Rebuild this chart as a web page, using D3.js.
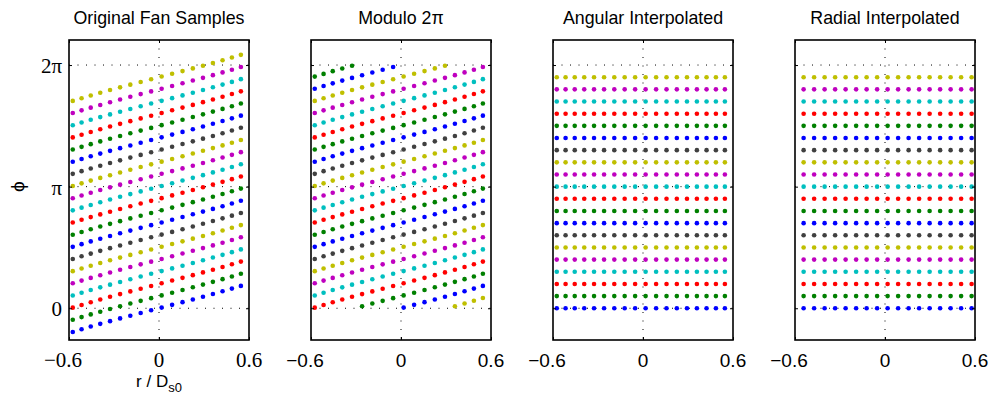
<!DOCTYPE html>
<html>
<head>
<meta charset="utf-8">
<script src="https://cdn.jsdelivr.net/npm/d3@7"></script>
<style>
  html, body { margin: 0; padding: 0; background: #fff; }
  svg { display: block; }
  .title { font-family: "Liberation Sans", Arial, sans-serif; font-size: 17.8px; fill: #000; }
  .serif { font-family: "Liberation Serif", "Times New Roman", serif; }
  .sans  { font-family: "Liberation Sans", Arial, sans-serif; }
</style>
</head>
<body>
<svg id="chart" width="990" height="398"></svg>
<script>
// Projection (view) angles, in units of pi: 20 views over a full turn
const viewAnglesOverPi = [0.0, 0.1, 0.2, 0.3, 0.4, 0.5, 0.6, 0.7, 0.8, 0.9,
                          1.0, 1.1, 1.2, 1.3, 1.4, 1.5, 1.6, 1.7, 1.8, 1.9];

// Fan-beam detector angles gamma (rad), quarter-detector offset
const fanGamma = [-0.6125, -0.5425, -0.4725, -0.4025, -0.3325, -0.2625,
                  -0.1925, -0.1225, -0.0525, 0.0175, 0.0875, 0.1575,
                  0.2275, 0.2975, 0.3675, 0.4375, 0.5075, 0.5775];

// Radial position of each fan ray, r / Ds0 = sin(gamma)
const fanR = [-0.5749, -0.5162, -0.4551, -0.3917, -0.3264, -0.2595,
              -0.1913, -0.1222, -0.0525, 0.0175, 0.0874, 0.1568,
              0.2255, 0.2931, 0.3593, 0.4237, 0.4860, 0.5459];

// Uniform parallel-beam radial grid after radial interpolation
const radialR = [-0.5425, -0.4725, -0.4025, -0.3325, -0.2625, -0.1925,
                 -0.1225, -0.0525, 0.0175, 0.0875, 0.1575, 0.2275,
                 0.2975, 0.3675, 0.4375, 0.5075, 0.5775];

// Tick values / labels
const xTicks = [-0.6, 0, 0.6];
const xTickLabels = ["\u22120.6", "0", "0.6"];
const yTicks = [0, Math.PI, 2 * Math.PI];
const yTickLabels = ["0", "\u03c0", "2\u03c0"];

const panelTitles = ["Original Fan Samples", "Modulo 2\u03c0", "Angular Interpolated", "Radial Interpolated"];

// Colour cycle per view
const viewColors = ["#0000ff", "#008000", "#ff0000", "#00bfbf", "#bf00bf", "#bfbf00", "#404040"];

const TWO_PI = 2 * Math.PI;
const views = viewAnglesOverPi.map(v => v * Math.PI);

// Sample sets for each panel
function fanSamples(wrap) {
  const pts = [];
  views.forEach((b, k) => {
    fanR.forEach((r, j) => {
      let phi = b + fanGamma[j];
      if (wrap) phi = ((phi % TWO_PI) + TWO_PI) % TWO_PI;
      pts.push({ r, phi, k });
    });
  });
  return pts;
}
function gridSamples(rs) {
  const pts = [];
  views.forEach((b, k) => rs.forEach(r => pts.push({ r, phi: b, k })));
  return pts;
}
const panelData = [fanSamples(false), fanSamples(true), gridSamples(fanR), gridSamples(radialR)];

const svg = d3.select("#chart");
const plotTop = 40, plotBottom = 340, plotW = 180, firstLeft = 69, step = 242;

const y = d3.scaleLinear().domain([-0.82, 6.93]).range([plotBottom, plotTop]);

panelData.forEach((pts, i) => {
  const left = firstLeft + step * i;
  const x = d3.scaleLinear().domain([-0.6, 0.6]).range([left, left + plotW]);
  const g = svg.append("g");

  // dotted grid
  g.append("g").selectAll("line.gy").data(yTicks).join("line")
    .attr("x1", x(-0.6)).attr("x2", x(0.6))
    .attr("y1", d => y(d)).attr("y2", d => y(d))
    .attr("stroke", "#000").attr("stroke-width", 1)
    .attr("stroke-dasharray", "1,7.5");
  g.append("line")
    .attr("x1", x(0)).attr("x2", x(0))
    .attr("y1", plotTop).attr("y2", plotBottom)
    .attr("stroke", "#000").attr("stroke-width", 1)
    .attr("stroke-dasharray", "1,7.5");

  // samples
  g.append("g").selectAll("circle").data(pts).join("circle")
    .attr("cx", d => x(d.r)).attr("cy", d => y(d.phi))
    .attr("r", 2.3)
    .attr("fill", d => viewColors[d.k % viewColors.length]);

  // inward ticks on all four sides
  const noLabel = () => "";
  g.append("g").attr("transform", `translate(0,${plotBottom})`)
    .call(d3.axisBottom(x).tickValues(xTicks).tickSize(-3).tickFormat(noLabel));
  g.append("g").attr("transform", `translate(0,${plotTop})`)
    .call(d3.axisTop(x).tickValues(xTicks).tickSize(-3).tickFormat(noLabel));
  g.append("g").attr("transform", `translate(${x(-0.6)},0)`)
    .call(d3.axisLeft(y).tickValues(yTicks).tickSize(-3).tickFormat(noLabel));
  g.append("g").attr("transform", `translate(${x(0.6)},0)`)
    .call(d3.axisRight(y).tickValues(yTicks).tickSize(-3).tickFormat(noLabel));
  g.selectAll(".domain").remove();
  g.selectAll(".tick line").attr("stroke", "#000").attr("stroke-width", 1);

  // box
  g.append("rect")
    .attr("x", x(-0.6)).attr("y", plotTop)
    .attr("width", plotW).attr("height", plotBottom - plotTop)
    .attr("fill", "none").attr("stroke", "#000").attr("stroke-width", 1.6);

  // x tick labels
  const serif = i === 0;
  g.append("g").selectAll("text").data(xTicks).join("text")
    .attr("class", serif ? "serif" : "sans")
    .attr("font-size", serif ? 21 : 19)
    .attr("x", d => x(d) + (d < 0 ? -6 : 0))
    .attr("y", 367)
    .attr("text-anchor", "middle")
    .text((d, n) => xTickLabels[n]);

  // title
  g.append("text").attr("class", "title")
    .attr("x", left + plotW / 2).attr("y", 23.5)
    .attr("text-anchor", "middle")
    .text(panelTitles[i]);

  if (i === 0) {
    g.append("g").selectAll("text").data(yTicks).join("text")
      .attr("class", "serif").attr("font-size", 21)
      .attr("x", x(-0.6) - 7).attr("y", d => y(d) + 8)
      .attr("text-anchor", "end")
      .text((d, n) => yTickLabels[n]);

    g.append("text").attr("class", "sans").attr("font-size", 19)
      .attr("transform", `translate(24,${y(Math.PI)}) rotate(-90)`)
      .attr("text-anchor", "middle")
      .text("\u03d5");

    const xl = g.append("text").attr("class", "sans").attr("font-size", 17)
      .attr("x", left + plotW / 2).attr("y", 387)
      .attr("text-anchor", "middle");
    xl.append("tspan").text("r / D");
    xl.append("tspan").attr("font-size", 13).attr("dy", 5).text("s0");
  }
});
</script>
</body>
</html>
